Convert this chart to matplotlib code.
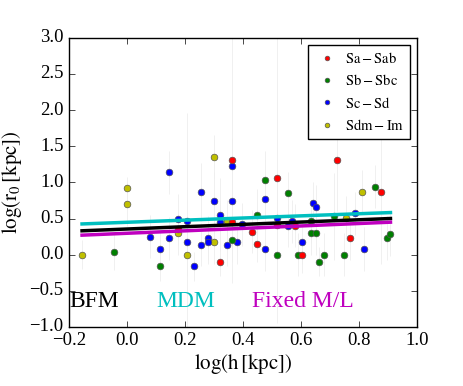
import numpy as np
import matplotlib
matplotlib.use('Agg')
import matplotlib.pyplot as plt

plt.style.use('classic')
plt.rcParams['font.family'] = 'serif'
plt.rcParams['font.serif'] = ['Liberation Serif', 'DejaVu Serif']
plt.rcParams['mathtext.fontset'] = 'stix'
plt.rcParams['figure.facecolor'] = 'white'
plt.rcParams['savefig.facecolor'] = 'white'

# galaxies by morphological type: log(h), log(r0), error on log(r0)
sa_h = [0.177, 0.362, 0.362, 0.322, 0.43, 0.447, 0.518, 0.518, 0.579, 0.603, 0.724, 0.77, 0.874]
sa_r = [0.35, 1.31, 0.45, -0.10, 0.32, 0.145, 1.06, 0.41, 0.40, 0.0, 1.305, 0.23, 0.865]
sa_e = [0.2, 1.7, 0.3, 0.2, 0.3, 0.25, 2.0, 0.3, 0.3, 0.25, 0.7, 0.3, 1.0]

sb_h = [-0.046, 0.114, 0.362, 0.447, 0.477, 0.518, 0.556, 0.591, 0.633, 0.633, 0.653, 0.662, 0.68, 0.715, 0.747, 0.856, 0.897, 0.908]
sb_r = [0.04, -0.16, 0.20, 0.555, 1.03, 0.0, 0.85, 0.0, 0.46, 0.30, 0.30, -0.10, 0.0, 0.53, 0.0, 0.94, 0.23, 0.28]
sb_e = [0.25, 0.2, 0.3, 0.35, 0.4, 0.3, 0.3, 0.3, 0.3, 0.3, 0.3, 0.2, 0.3, 0.6, 0.3, 0.3, 0.3, 0.3]

sc_h = [0.079, 0.114, 0.146, 0.146, 0.177, 0.206, 0.206, 0.231, 0.255, 0.255, 0.278, 0.278, 0.301, 0.322, 0.322,
        0.343, 0.362, 0.362, 0.38, 0.398, 0.476, 0.476, 0.518, 0.556, 0.568, 0.602, 0.642, 0.653, 0.785, 0.818]
sc_r = [0.25, 0.08, 1.14, 0.226, 0.49, 0.46, 0.17, -0.16, 0.865, 0.14, 0.23, 0.17, 0.74, 0.555, 0.45,
        0.14, 1.22, 0.74, 0.17, 0.42, 0.77, 0.078, 0.505, 0.40, 0.46, 0.175, 0.71, 0.66, 0.57, 0.078]
sc_e = [0.3, 0.25, 0.3, 0.3, 0.35, 1.5, 0.3, 0.2, 0.4, 0.3, 0.3, 0.3, 0.4, 0.5, 0.3,
        0.3, 0.4, 0.4, 0.3, 0.3, 0.3, 0.3, 0.5, 0.3, 0.3, 0.3, 0.3, 0.3, 0.3, 0.3]

sd_h = [-0.155, 0.0, 0.0, 0.176, 0.206, 0.301, 0.301, 0.343, 0.755, 0.811]
sd_r = [0.0, 0.92, 0.70, 0.30, 0.0, 1.35, 0.175, 0.46, 0.505, 0.865]
sd_e = [0.2, 0.15, 0.3, 0.3, 0.3, 0.3, 0.3, 0.3, 0.3, 0.3]

# linear fits: intercept, slope
fit_names = ['BFM', 'MDM', 'Fixed M/L']
fit_a = [0.355, 0.448, 0.296]
fit_b = [0.16, 0.148, 0.169]
fit_cols = ['k', 'c', 'm']
fit_lab_x = [-0.2, 0.10, 0.43]

fig = plt.figure(figsize=(4.63, 3.86), dpi=100)
ax = fig.add_axes([0.149, 0.153, 0.752, 0.749])

groups = [(sa_h, sa_r, sa_e, 'r', r'$\rm{Sa-Sab}$'),
          (sb_h, sb_r, sb_e, 'g', r'$\rm{Sb-Sbc}$'),
          (sc_h, sc_r, sc_e, 'b', r'$\rm{Sc-Sd}$'),
          (sd_h, sd_r, sd_e, 'y', r'$\rm{Sdm-Im}$')]

for h, r, e, col, lab in groups:
    ax.errorbar(h, r, yerr=e, fmt='none', ecolor='#eeeeee', elinewidth=0.6, capsize=0, zorder=1)
for h, r, e, col, lab in groups[::-1]:
    ax.plot(h, r, 'o', color=col, mec='#555555', mew=0.5, ms=4.8, label=lab, zorder=2)

all_h = np.concatenate([sa_h, sb_h, sc_h, sd_h])
xx = np.array([all_h.min(), all_h.max()])
for a, b, col in zip(fit_a, fit_b, fit_cols):
    ax.plot(xx, a + b * xx, '-', color=col, lw=2.5, zorder=3)

for name, col, tx in zip(fit_names, fit_cols, fit_lab_x):
    ax.text(tx, -0.72, name, color=col, fontsize=17)

handles, labels = ax.get_legend_handles_labels()
ax.legend(handles[::-1], labels[::-1], loc='upper right', numpoints=1, fontsize=10.5,
          markerscale=0.7, borderaxespad=0.5, handletextpad=0.3, labelspacing=0.5,
          borderpad=0.4, handlelength=1.8)

ax.set_xlim(-0.2, 1.0)
ax.set_ylim(-1.0, 3.0)
ax.set_xlabel(r'$\rm{log(h\,[kpc])}$', fontsize=15, labelpad=2)
ax.set_ylabel(r'$\rm{log(r_0\,[kpc])}$', fontsize=15, labelpad=4)
ax.tick_params(labelsize=13.5, pad=4)

fig.savefig('out.png', dpi=100)
